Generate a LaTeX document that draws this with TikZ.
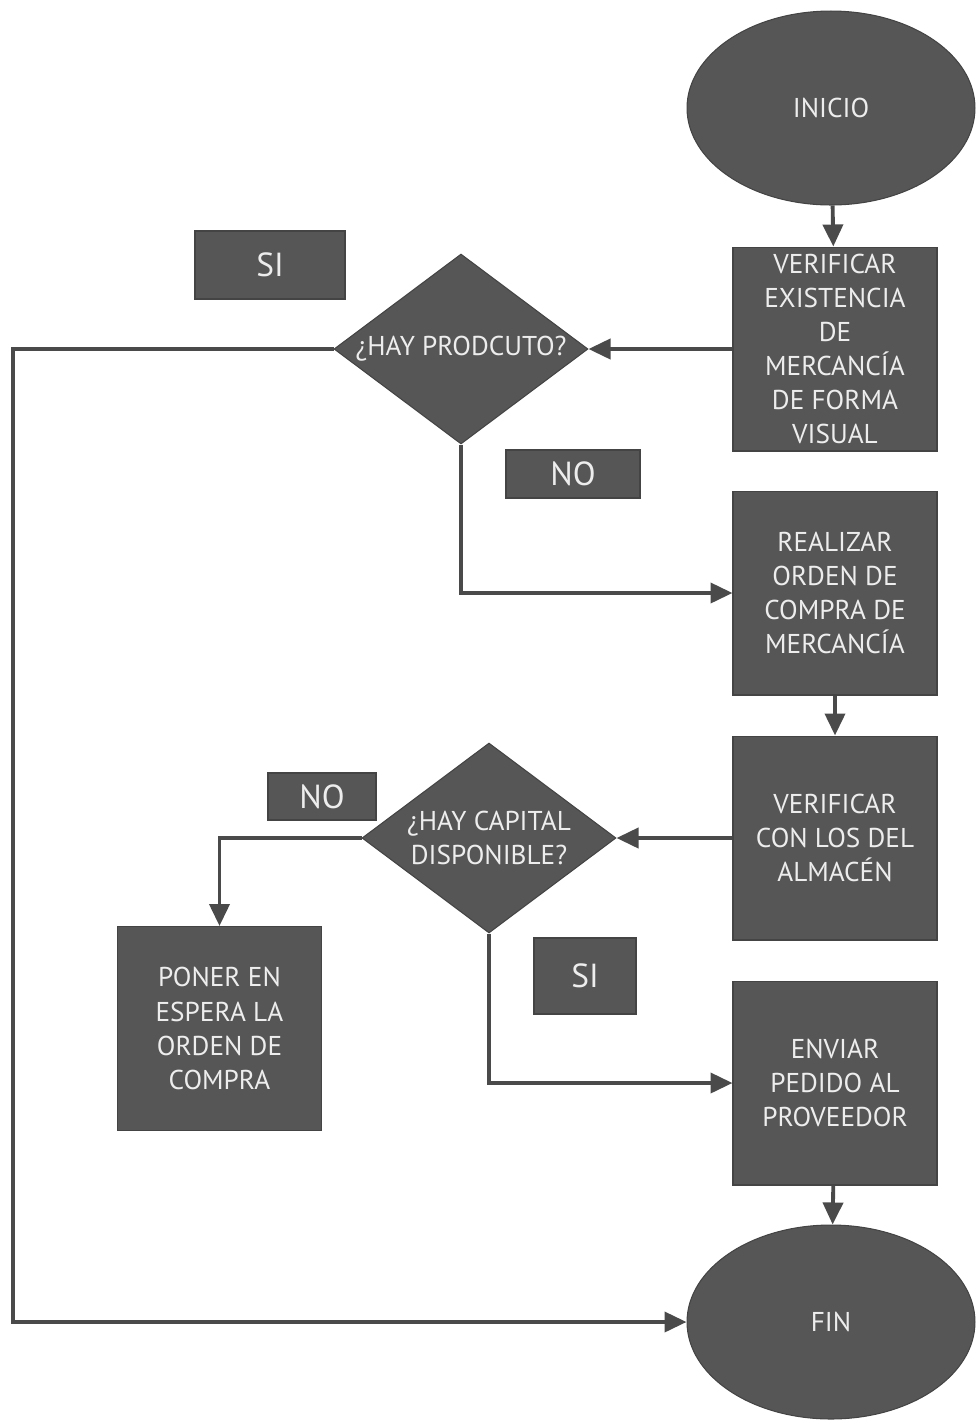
\documentclass[tikz,border=0pt]{standalone}
\usepackage{fontspec}
\setmainfont{PT Sans}
\usetikzlibrary{arrows.meta,shapes.geometric}
\definecolor{boxgray}{HTML}{565656}
\definecolor{edgegray}{HTML}{444444}
\definecolor{linegray}{HTML}{4A4A4A}
\definecolor{txtgray}{HTML}{EDEDED}

\begin{document}
\begin{tikzpicture}[x=0.02cm, y=-0.02cm,
    base/.style={draw=edgegray, fill=boxgray, line width=0.6pt, inner sep=0pt, text=txtgray, align=center, font=\fontsize{15.5}{19.4}\selectfont},
    term/.style={base, ellipse, minimum width=5.76cm, minimum height=3.88cm},
    proc/.style={base, rectangle, minimum width=4.08cm, minimum height=4.08cm},
    decide/.style={base, diamond, minimum width=5.08cm, minimum height=3.8cm},
    tag/.style={base, rectangle, font=\fontsize{19}{22}\selectfont},
    flow/.style={-{Triangle[length=0.44cm, width=0.4cm]}, draw=linegray, line width=2.2pt}]
    \useasboundingbox (0,0) rectangle (976,1421);

    \node[term] (inicio) at (831,108) {INICIO};
    \node[proc] (verificar) at (835,349) {VERIFICAR\\EXISTENCIA\\DE\\MERCANCÍA\\DE FORMA\\VISUAL};
    \node[decide, label={[base, draw=none, fill=none]center:¿HAY PRODCUTO?}] (producto) at (461,349) {};
    \node[tag, minimum width=3cm, minimum height=1.36cm] (si1) at (270,265) {SI};
    \node[tag, minimum width=2.68cm, minimum height=0.96cm] (no1) at (573,474) {NO};
    \node[proc] (orden) at (835,593) {REALIZAR\\ORDEN DE\\COMPRA DE\\MERCANCÍA};
    \node[proc] (almacen) at (835,838) {VERIFICAR\\CON LOS DEL\\ALMACÉN};
    \node[decide, label={[base, draw=none, fill=none]center:¿HAY CAPITAL\\DISPONIBLE?}] (capital) at (489,838) {};
    \node[tag, minimum width=2.16cm, minimum height=0.94cm] (no2) at (322,796.5) {NO};
    \node[tag, minimum width=2.04cm, minimum height=1.52cm] (si2) at (585,976) {SI};
    \node[proc] (espera) at (219.5,1028.5) {PONER EN\\ESPERA LA\\ORDEN DE\\COMPRA};
    \node[proc] (enviar) at (835,1083) {ENVIAR\\PEDIDO AL\\PROVEEDOR};
    \node[term] (fin) at (831,1322) {FIN};
    \coordinate (loop) at (13,349);

    \draw[flow] (inicio) -- (verificar);
    \draw[flow] (verificar) -- (producto.east);
    \draw[flow] (producto.south) |- (orden.west);
    \draw[flow] (orden) -- (almacen);
    \draw[flow] (almacen) -- (capital.east);
    \draw[flow] (capital.west) -| (espera.north);
    \draw[flow] (capital.south) |- (enviar.west);
    \draw[flow] (enviar) -- (fin);
    \draw[flow] (producto.west) -- (loop) |- (fin.west);
  \end{tikzpicture}
\end{document}
